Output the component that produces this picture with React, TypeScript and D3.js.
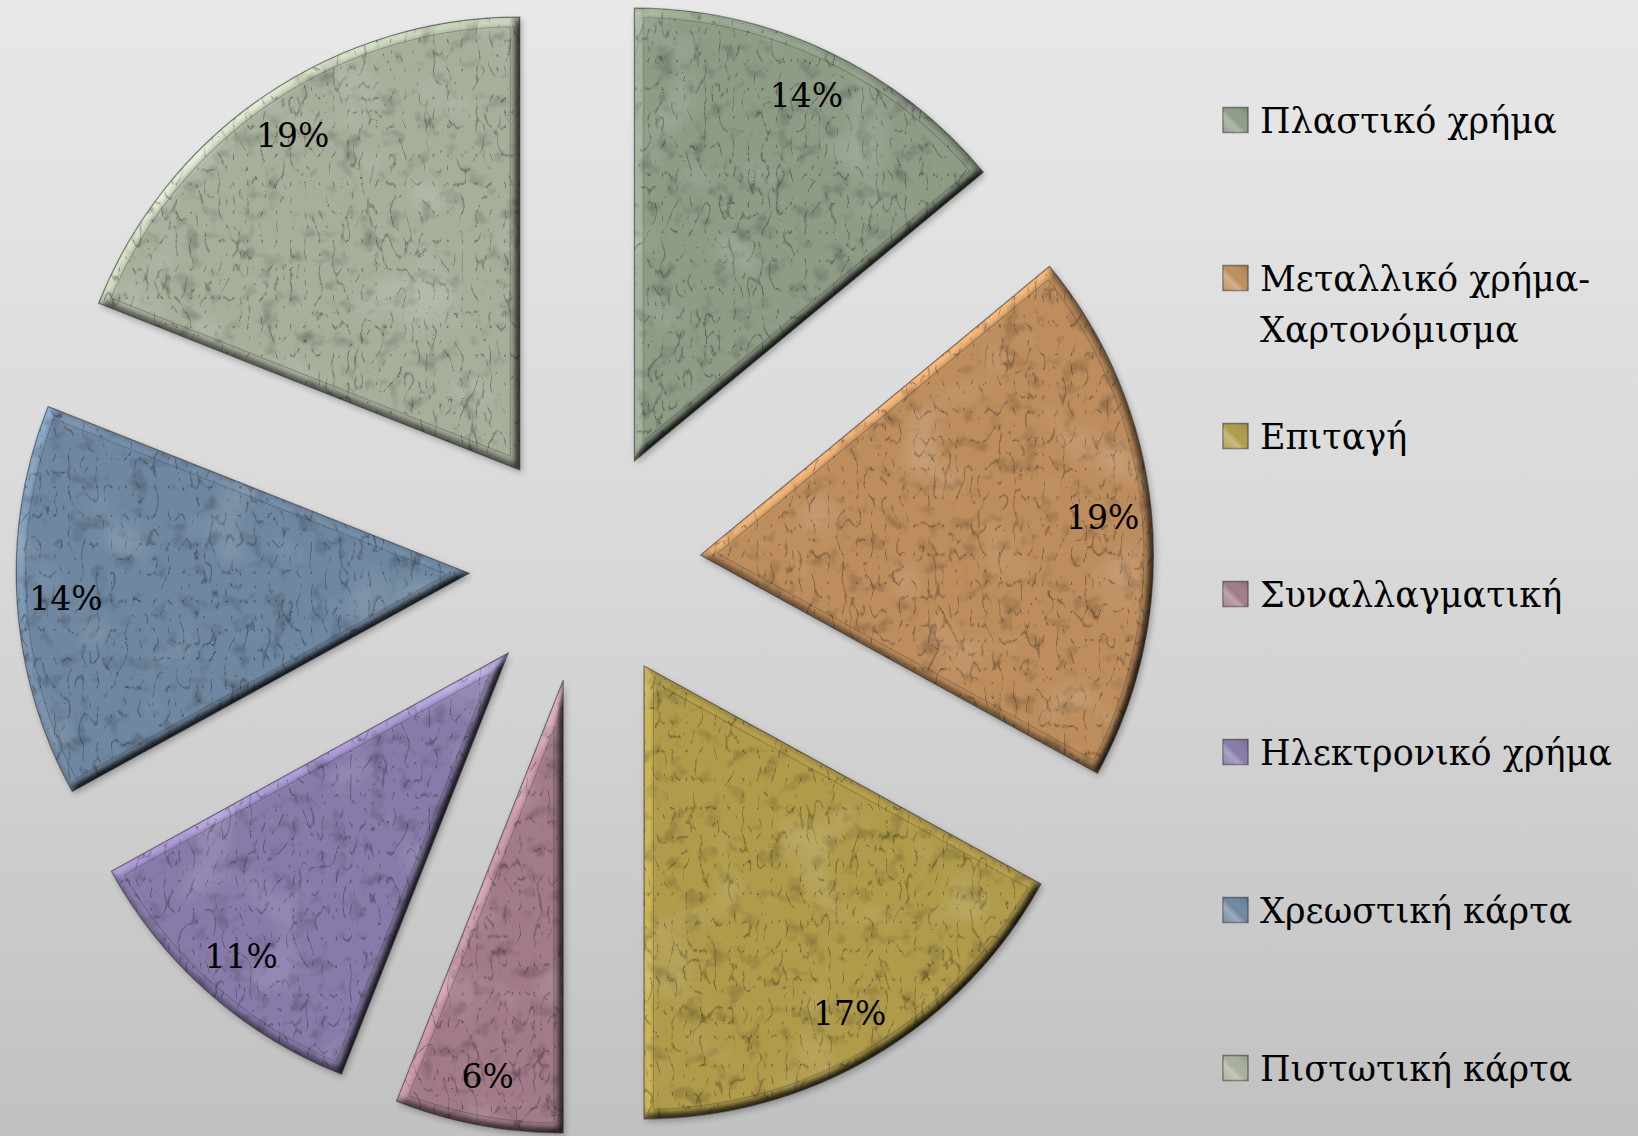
import React from 'react';
import * as d3 from 'd3';

const CATEGORIES = [
  'Πλαστικό χρήμα',
  'Μεταλλικό χρήμα-Χαρτονόμισμα',
  'Επιταγή',
  'Συναλλαγματική',
  'Ηλεκτρονικό χρήμα',
  'Χρεωστική κάρτα',
  'Πιστωτική κάρτα',
];
const VALUES = [14, 19, 17, 6, 11, 14, 19];
const COLORS = ['#8e9c86', '#bd8d5d', '#b09b4b', '#a27b8a', '#887aa9', '#6f87a0', '#a7af9b'];

const W = 1638;
const H = 1136;
const CX = 585;
const CY = 566;
const R = 453;
const EXPLODE = 116;
const LABEL_R = 404;
const INSET = 9;

const LEGEND_X = 1223;
const LEGEND_Y0 = 120;
const LEGEND_STEP = 158;
const BOX = 25;
const FONT = '"DejaVu Serif", "Liberation Serif", serif';

function splitName(name: string): string[] {
  const i = name.indexOf('-');
  if (i < 0) return [name];
  return [name.slice(0, i + 1), name.slice(i + 1)];
}

export default function App() {
  const pie = d3.pie<number>().sort(null).value((d) => d).startAngle(0).endAngle(2 * Math.PI);
  const arcs = pie(VALUES);
  const arc = d3.arc<d3.PieArcDatum<number>>().innerRadius(0).outerRadius(R);
  const labelArc = d3.arc<d3.PieArcDatum<number>>().innerRadius(LABEL_R).outerRadius(LABEL_R);
  const total = d3.sum(VALUES);
  const legendY = d3.scaleLinear().domain([0, 1]).range([LEGEND_Y0, LEGEND_Y0 + LEGEND_STEP]);

  return (
    <svg
      width={W}
      height={H}
      viewBox={`0 0 ${W} ${H}`}
      style={{ position: 'absolute', left: 0, top: 0, display: 'block' }}
    >
      <defs>
        <linearGradient id="bg" x1="0" y1="0" x2="0" y2="1">
          <stop offset="0" stopColor="#e8e8e8" />
          <stop offset="0.5" stopColor="#d8d8d8" />
          <stop offset="1" stopColor="#c1c1c1" />
        </linearGradient>
        <filter id="sliceFx" x="-0.1" y="-0.1" width="1.2" height="1.2" colorInterpolationFilters="sRGB">
          <feTurbulence type="fractalNoise" baseFrequency="0.05" numOctaves="3" seed="11" result="noise" />
          <feColorMatrix
            in="noise"
            type="matrix"
            values="0 0 0 0 0  0 0 0 0 0  0 0 0 0 0  0.6 0 0 0 -0.33"
            result="spots"
          />
          <feTurbulence type="turbulence" baseFrequency="0.07 0.035" numOctaves="2" seed="4" result="noise2" />
          <feColorMatrix
            in="noise2"
            type="matrix"
            values="0 0 0 0 0  0 0 0 0 0  0 0 0 0 0  -3 0 0 0 0.3"
            result="scrib"
          />
          <feTurbulence type="fractalNoise" baseFrequency="0.015" numOctaves="2" seed="21" result="noise3" />
          <feColorMatrix
            in="noise3"
            type="matrix"
            values="0 0 0 0 1  0 0 0 0 1  0 0 0 0 1  0.5 0 0 0 -0.28"
            result="lightSpots"
          />
          <feComposite in="spots" in2="SourceGraphic" operator="atop" result="tex1" />
          <feComposite in="scrib" in2="tex1" operator="atop" result="tex2" />
          <feComposite in="lightSpots" in2="tex2" operator="atop" result="tex" />
          <feGaussianBlur in="SourceAlpha" stdDeviation="4" result="blur" />
          <feDiffuseLighting in="blur" surfaceScale="5" diffuseConstant="1" lightingColor="#ffffff" result="light">
            <feDistantLight azimuth="225" elevation="50" />
          </feDiffuseLighting>
          <feComposite in="tex" in2="light" operator="arithmetic" k1="1.305" k2="0" k3="0" k4="0" result="lit" />
          <feComposite in="lit" in2="SourceAlpha" operator="in" result="litIn" />
          <feGaussianBlur in="SourceAlpha" stdDeviation="3" result="sh" />
          <feOffset in="sh" dx="2" dy="3" result="sho" />
          <feComponentTransfer in="sho" result="shadow">
            <feFuncA type="linear" slope="0.28" />
          </feComponentTransfer>
          <feMerge>
            <feMergeNode in="shadow" />
            <feMergeNode in="litIn" />
          </feMerge>
        </filter>
        <linearGradient id="boxHi" x1="0" y1="1" x2="1" y2="0">
          <stop offset="0" stopColor="#ffffff" stopOpacity="0.05" />
          <stop offset="0.35" stopColor="#ffffff" stopOpacity="0.3" />
          <stop offset="0.5" stopColor="#ffffff" stopOpacity="0.0" />
          <stop offset="1" stopColor="#000000" stopOpacity="0.15" />
        </linearGradient>
        {arcs.map((a, i) => {
          const mid = (a.startAngle + a.endAngle) / 2;
          const tx = CX + EXPLODE * Math.sin(mid);
          const ty = CY - EXPLODE * Math.cos(mid);
          const d = arc(a) || '';
          return (
            <React.Fragment key={`defs-${i}`}>
              <clipPath id={`clip-${i}`}>
                <path d={d} transform={`translate(${tx},${ty})`} />
              </clipPath>
              <mask id={`inset-${i}`} maskUnits="userSpaceOnUse" x="0" y="0" width={W} height={H}>
                <path d={d} transform={`translate(${tx},${ty})`} fill="none" stroke="#fff" strokeWidth={INSET * 2 + 2} strokeLinejoin="miter" strokeMiterlimit={20} />
                <path d={d} transform={`translate(${tx},${ty})`} fill="none" stroke="#000" strokeWidth={INSET * 2} strokeLinejoin="miter" strokeMiterlimit={20} />
              </mask>
            </React.Fragment>
          );
        })}
      </defs>

      <rect x={0} y={0} width={W} height={H} fill="url(#bg)" />

      {arcs.map((a, i) => {
        const mid = (a.startAngle + a.endAngle) / 2;
        const tx = CX + EXPLODE * Math.sin(mid);
        const ty = CY - EXPLODE * Math.cos(mid);
        const d = arc(a) || '';
        const [lx, ly] = labelArc.centroid(a);
        return (
          <g key={`slice-${i}`}>
            <g transform={`translate(${tx},${ty})`}>
              <path d={d} fill={COLORS[i]} filter="url(#sliceFx)" />
            </g>
            <g clipPath={`url(#clip-${i})`}>
              <rect x={0} y={0} width={W} height={H} fill="#2a2a2a" fillOpacity={0.28} mask={`url(#inset-${i})`} />
            </g>
            <g transform={`translate(${tx},${ty})`}>
              <path d={d} fill="none" stroke="#2b2b2b" strokeOpacity={0.55} strokeWidth={1.1} />
              <text
                x={lx}
                y={ly}
                dy="0.35em"
                textAnchor="middle"
                fontFamily={FONT}
                fontSize={33}
                fill="#000"
              >
                {`${Math.round((VALUES[i] / total) * 100)}%`}
              </text>
            </g>
          </g>
        );
      })}

      {CATEGORIES.map((name, i) => {
        const y = legendY(i);
        const lines = splitName(name);
        return (
          <g key={`leg-${i}`}>
            <rect x={LEGEND_X} y={y - BOX / 2} width={BOX} height={BOX} fill={COLORS[i]} stroke="#3a3a3a" strokeOpacity={0.6} strokeWidth={1.5} />
            <rect x={LEGEND_X} y={y - BOX / 2} width={BOX} height={BOX} fill="url(#boxHi)" />
            <text x={LEGEND_X + 37} y={y + 13} fontFamily={FONT} fontSize={35} fill="#000">
              {lines.map((ln, k) => (
                <tspan key={k} x={LEGEND_X + 37} dy={k === 0 ? 0 : 51}>
                  {ln}
                </tspan>
              ))}
            </text>
          </g>
        );
      })}
    </svg>
  );
}
